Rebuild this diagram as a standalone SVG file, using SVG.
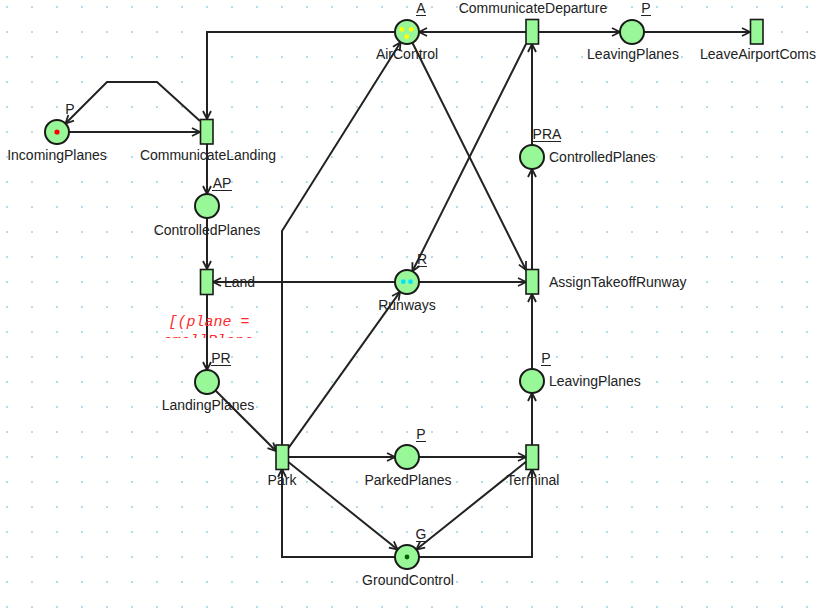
<svg xmlns="http://www.w3.org/2000/svg" width="820" height="609" viewBox="0 0 820 609">
<defs>
<pattern id="grid" x="0" y="0" width="25" height="25" patternUnits="userSpaceOnUse">
<rect x="6" y="6" width="2" height="2" fill="#b4dcea"/>
</pattern>
<marker id="arr" markerWidth="12" markerHeight="12" viewBox="0 0 12 12" refX="10" refY="6" orient="auto" markerUnits="userSpaceOnUse">
<path d="M2,2 L10,6 L2,10" fill="none" stroke="#222" stroke-width="1.8"/>
</marker>
<clipPath id="gclip"><rect x="140" y="300" width="140" height="38"/></clipPath>
<style>
.pl{fill:#98f898;stroke:#1a1a1a;stroke-width:2}
.tr{fill:#98f898;stroke:#1a1a1a;stroke-width:1.6}
.arc{fill:none;stroke:#222;stroke-width:2;marker-end:url(#arr)}
.lb{font-family:"Liberation Sans",Arial,sans-serif;font-size:14px;fill:#222}
.c{text-anchor:middle}
.ul{stroke:#222;stroke-width:1}
.g{font-family:"Liberation Mono","Courier New",monospace;font-size:15px;font-style:italic;fill:#ff2a2a;text-anchor:middle}
</style>
</defs>
<rect width="820" height="609" fill="#ffffff"/>
<rect width="820" height="609" fill="url(#grid)"/>

<g id="connectors">
<path class="arc" d="M69,132 L200,132"/>
<path class="arc" d="M200,121 L157,82 L107,82 L65.5,123.5"/>
<path class="arc" d="M395,32 L207,32 L207,119"/>
<path class="arc" d="M207,144 L207,194"/>
<path class="arc" d="M207,218 L207,269"/>
<path class="arc" d="M207,295 L207,370"/>
<path class="arc" d="M215.5,390.5 L276,451"/>
<path class="arc" d="M288,457 L395,457"/>
<path class="arc" d="M419,457 L526,457"/>
<path class="arc" d="M288,461.8 L397.6,549.5"/>
<path class="arc" d="M526,461.8 L416.4,549.5"/>
<path class="arc" d="M395,557 L282,557 L282,469"/>
<path class="arc" d="M419,557 L532,557 L532,469"/>
<path class="arc" d="M288,448.6 L400,291.8"/>
<path class="arc" d="M282,445 L282,231 L400.6,42.2"/>
<path class="arc" d="M395,282 L213,282"/>
<path class="arc" d="M419,282 L526,282"/>
<path class="arc" d="M526,44 L412.4,271.3"/>
<path class="arc" d="M412.4,42.7 L526,270"/>
<path class="arc" d="M532,269 L532,169"/>
<path class="arc" d="M532,145 L532,44"/>
<path class="arc" d="M526,32 L419,32"/>
<path class="arc" d="M539,32 L620,32"/>
<path class="arc" d="M644,32 L750,32"/>
<path class="arc" d="M532,445 L532,393"/>
<path class="arc" d="M532,369 L532,294"/>
</g>

<g id="IncomingPlanes">
<circle class="pl" cx="57" cy="132" r="12"/>
<circle cx="57" cy="132" r="2.6" fill="#ff0000"/>
<text class="lb c" x="70" y="114">P</text>
<text class="lb c" x="57" y="160">IncomingPlanes</text>
</g>
<g id="CommunicateLanding">
<rect class="tr" x="200.5" y="119.5" width="12.5" height="24.5"/>
<text class="lb c" x="208" y="160">CommunicateLanding</text>
</g>
<g id="AirControl">
<circle class="pl" cx="407" cy="32" r="12"/>
<circle cx="401.7" cy="29.3" r="2.4" fill="#ffff00"/>
<circle cx="411.2" cy="29.3" r="2.4" fill="#ffff00"/>
<circle cx="406.7" cy="36.7" r="2.4" fill="#ffff00"/>
<text class="lb c" x="421" y="13">A</text>
<line class="ul" x1="416" y1="15.5" x2="426" y2="15.5"/>
<text class="lb c" x="407" y="59">AirControl</text>
</g>
<g id="CommunicateDeparture">
<rect class="tr" x="526" y="19.5" width="12.5" height="24.5"/>
<text class="lb c" x="533" y="13">CommunicateDeparture</text>
</g>
<g id="LeavingPlanesTop">
<circle class="pl" cx="632" cy="32" r="12"/>
<text class="lb c" x="646" y="13">P</text>
<line class="ul" x1="641" y1="15.5" x2="651" y2="15.5"/>
<text class="lb c" x="633" y="59">LeavingPlanes</text>
</g>
<g id="LeaveAirportComs">
<rect class="tr" x="750.5" y="19.5" width="12.5" height="24.5"/>
<text class="lb c" x="758" y="59">LeaveAirportComs</text>
</g>
<g id="ControlledPlanesL">
<circle class="pl" cx="207" cy="206" r="12"/>
<text class="lb c" x="222" y="188">AP</text>
<line class="ul" x1="212" y1="190.5" x2="232" y2="190.5"/>
<text class="lb c" x="207" y="235">ControlledPlanes</text>
</g>
<g id="Land">
<rect class="tr" x="200.5" y="269.5" width="12.5" height="25"/>
<text class="lb" x="224" y="287">Land</text>
<g clip-path="url(#gclip)">
<text class="g" x="209" y="326">[(plane =</text>
<text class="g" x="208" y="345">smallPlane</text>
</g>
</g>
<g id="LandingPlanes">
<circle class="pl" cx="207" cy="382" r="12"/>
<text class="lb c" x="221" y="363">PR</text>
<line class="ul" x1="211" y1="365.5" x2="231" y2="365.5"/>
<text class="lb c" x="208" y="410">LandingPlanes</text>
</g>
<g id="Runways">
<circle class="pl" cx="407" cy="282" r="12"/>
<circle cx="403.3" cy="281.7" r="2.4" fill="#00e5ff"/>
<circle cx="410.5" cy="281.7" r="2.4" fill="#00e5ff"/>
<text class="lb c" x="422" y="264">R</text>
<line class="ul" x1="417" y1="266.5" x2="427" y2="266.5"/>
<text class="lb c" x="407" y="310">Runways</text>
</g>
<g id="AssignTakeoffRunway">
<rect class="tr" x="526" y="269.5" width="12.5" height="24.5"/>
<text class="lb" x="549" y="287">AssignTakeoffRunway</text>
</g>
<g id="ControlledPlanesR">
<circle class="pl" cx="532" cy="157" r="12"/>
<text class="lb c" x="547" y="139">PRA</text>
<line class="ul" x1="533" y1="141.5" x2="561" y2="141.5"/>
<text class="lb" x="549" y="162">ControlledPlanes</text>
</g>
<g id="LeavingPlanesR">
<circle class="pl" cx="532" cy="381" r="12"/>
<text class="lb c" x="546" y="363">P</text>
<line class="ul" x1="541" y1="365.5" x2="551" y2="365.5"/>
<text class="lb" x="549" y="386">LeavingPlanes</text>
</g>
<g id="Park">
<rect class="tr" x="276" y="445" width="12.5" height="24.5"/>
<text class="lb c" x="282" y="485">Park</text>
</g>
<g id="ParkedPlanes">
<circle class="pl" cx="407" cy="457" r="12"/>
<text class="lb c" x="421" y="439">P</text>
<line class="ul" x1="416" y1="441.5" x2="426" y2="441.5"/>
<text class="lb c" x="408" y="485">ParkedPlanes</text>
</g>
<g id="Terminal">
<rect class="tr" x="526" y="445" width="12.5" height="24.5"/>
<text class="lb c" x="533" y="485">Terminal</text>
</g>
<g id="GroundControl">
<circle class="pl" cx="407" cy="557" r="12"/>
<circle cx="407" cy="557" r="2.4" fill="#006400"/>
<text class="lb c" x="421" y="539">G</text>
<line class="ul" x1="416" y1="541.5" x2="426" y2="541.5"/>
<text class="lb c" x="408" y="585">GroundControl</text>
</g>
</svg>
